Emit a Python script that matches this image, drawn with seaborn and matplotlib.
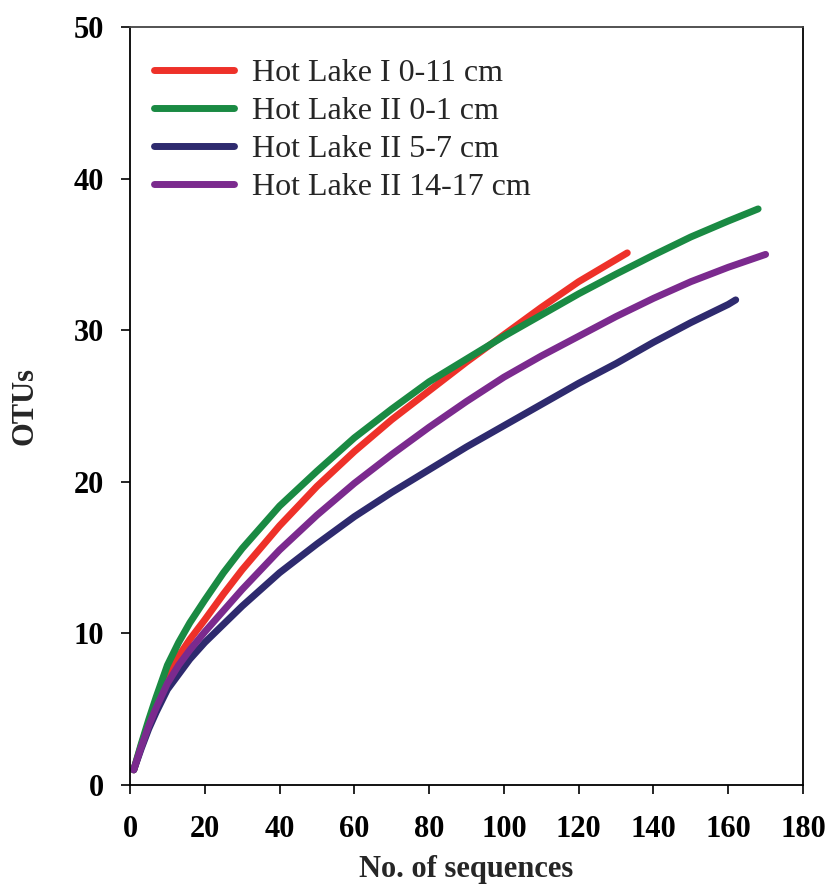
import matplotlib
matplotlib.use("Agg")
import matplotlib.pyplot as plt
from matplotlib.lines import Line2D
import seaborn as sns
import pandas as pd

# ---- data ----
series_names = ["Hot Lake I 0-11 cm", "Hot Lake II 0-1 cm", "Hot Lake II 5-7 cm", "Hot Lake II 14-17 cm"]

red_x = [1, 3, 5, 7, 10, 13, 16, 20, 25, 30, 40, 50, 60, 70, 80, 90, 100, 110, 120, 133]
red_y = [1, 2.6, 4.1, 5.4, 7.2, 8.5, 9.6, 10.9, 12.6, 14.2, 17.1, 19.7, 22.0, 24.1, 26.0, 27.9, 29.7, 31.5, 33.2, 35.1]

green_x = [1, 3, 5, 7, 10, 13, 16, 20, 25, 30, 40, 50, 60, 70, 80, 90, 100, 110, 120, 130, 140, 150, 160, 168]
green_y = [1, 2.7, 4.3, 5.8, 7.9, 9.4, 10.7, 12.2, 14.0, 15.6, 18.4, 20.7, 22.9, 24.8, 26.6, 28.1, 29.6, 31.0, 32.4, 33.7, 34.95, 36.15, 37.2, 38.0]

navy_x = [1, 3, 5, 7, 10, 13, 16, 20, 25, 30, 40, 50, 60, 70, 80, 90, 100, 110, 120, 130, 140, 150, 160, 162]
navy_y = [1, 2.4, 3.7, 4.8, 6.3, 7.3, 8.3, 9.4, 10.6, 11.8, 14.0, 15.9, 17.7, 19.3, 20.8, 22.3, 23.7, 25.1, 26.5, 27.8, 29.2, 30.5, 31.7, 32.0]

purple_x = [1, 3, 5, 7, 10, 13, 16, 20, 25, 30, 40, 50, 60, 70, 80, 90, 100, 110, 120, 130, 140, 150, 160, 170]
purple_y = [1, 2.5, 3.9, 5.1, 6.7, 7.9, 8.9, 10.1, 11.5, 12.9, 15.5, 17.8, 19.9, 21.8, 23.6, 25.3, 26.9, 28.3, 29.6, 30.9, 32.1, 33.2, 34.15, 35.0]

colors = ["#EE3129", "#1A8A43", "#2E2A6E", "#7B2A8E"]

x_ticks = [0, 20, 40, 60, 80, 100, 120, 140, 160, 180]
y_ticks = [0, 10, 20, 30, 40, 50]

# ---- build table ----
frames = []
for name, xs, ys in zip(series_names, [red_x, green_x, navy_x, purple_x], [red_y, green_y, navy_y, purple_y]):
    frames.append(pd.DataFrame({"x": xs, "y": ys, "series": name}))
df = pd.concat(frames, ignore_index=True)

sns.set_style("ticks")
plt.rcParams["font.family"] = ["Liberation Serif", "DejaVu Serif"]

fig = plt.figure(figsize=(8.32, 8.91), dpi=100)
ax = fig.add_axes([130 / 832, 1 - 785 / 891, (803 - 130) / 832, (785 - 27) / 891])

sns.lineplot(data=df, x="x", y="y", hue="series", hue_order=series_names,
             palette=colors, linewidth=5, sort=False, ax=ax,
             solid_capstyle="round", solid_joinstyle="round", legend=False)

ax.set_xlim(0, 180)
ax.set_ylim(0, 50)
ax.set_xticks(x_ticks)
ax.set_yticks(y_ticks)
ax.set_xticklabels([str(t) for t in x_ticks], fontsize=22, fontweight="bold")
ax.set_yticklabels([str(t) for t in y_ticks], fontsize=22, fontweight="bold")
ax.tick_params(axis="x", direction="out", length=6.5, width=1.2, pad=15, colors="black")
ax.tick_params(axis="y", direction="out", length=6.5, width=1.2, pad=12, colors="black")

for side in ["left", "right", "bottom", "top"]:
    ax.spines[side].set_visible(True)
    ax.spines[side].set_linewidth(1.3)
    ax.spines[side].set_color("black")
ax.spines["top"].set_color("#444444")

ax.set_xlabel("No. of sequences", fontsize=22, fontweight="bold")
ax.set_ylabel("OTUs", fontsize=22, fontweight="bold")
ax.xaxis.set_label_coords(0.5, -0.093)
ax.yaxis.set_label_coords(-0.135, 0.5)

handles = [Line2D([0], [0], color=c, linewidth=5, solid_capstyle="round") for c in colors]
ax.legend(handles, series_names, loc="upper left", bbox_to_anchor=(0.036, 0.958),
          frameon=False, fontsize=23, handlelength=2.5, handletextpad=0.55,
          labelspacing=0.27, borderpad=0, borderaxespad=0)

fig.savefig("out.png", dpi=100)
